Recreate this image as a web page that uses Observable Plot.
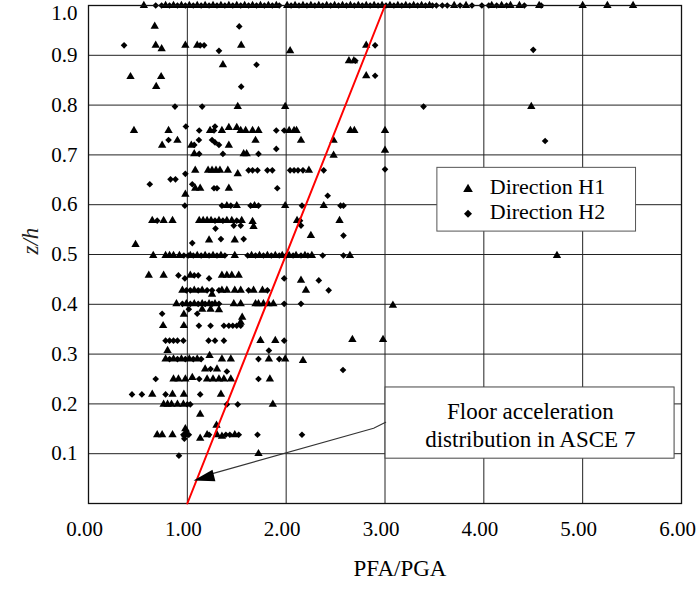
<!DOCTYPE html>
<html>
<head>
<meta charset="utf-8">
<script src="https://cdn.jsdelivr.net/npm/d3@7"></script>
<script src="https://cdn.jsdelivr.net/npm/@observablehq/plot@0.6"></script>
<style>
  html, body { margin: 0; padding: 0; background: white; }
</style>
</head>
<body>
<div id="chart"></div>
<script>
// ---- Data ----
const xTicks = [0, 1, 2, 3, 4, 5, 6];
const yTicks = [0.1, 0.2, 0.3, 0.4, 0.5, 0.6, 0.7, 0.8, 0.9];
const yTopTick = [1.0];

// points at z/h = 1.0 (roof)
const roofH1 = [0.56, 0.78, 0.86, 0.94, 1.02, 1.10, 1.18, 1.26, 1.34, 1.42, 1.50, 1.58, 1.66, 1.74, 1.82, 1.90, 2.01, 2.09, 2.17, 2.25, 2.33, 2.41, 2.49, 2.57, 2.65, 2.73, 2.81, 2.89, 2.97, 3.05, 3.13, 3.21, 3.29, 3.37, 3.45, 3.70, 3.82, 4.08, 4.18, 4.27, 4.36, 4.56, 5.00, 5.25, 5.51];
const roofH2 = [0.68, 0.74, 0.82, 0.90, 0.98, 1.06, 1.14, 1.22, 1.30, 1.38, 1.46, 1.54, 1.62, 1.70, 1.78, 1.86, 1.93, 2.05, 2.13, 2.21, 2.29, 2.37, 2.45, 2.53, 2.61, 2.69, 2.77, 2.85, 2.93, 3.01, 3.09, 3.17, 3.25, 3.33, 3.41, 3.48, 3.52, 3.58, 3.63, 3.76, 3.88, 3.98, 4.05, 4.13, 4.23, 4.41, 4.58];

// Direction H1 : [PFA/PGA, z/h]
const dirH1 = [
  [0.67,0.958],
  [0.68,0.92],[0.98,0.92],[1.10,0.92],[1.545,0.92],[2.81,0.92],[0.74,0.913],[2.04,0.909],
  [1.36,0.881],[2.635,0.889],[2.685,0.889],[2.81,0.859],[0.425,0.857],[0.735,0.857],[0.685,0.837],
  [1.51,0.797],[1.99,0.797],[4.48,0.797],
  [0.46,0.749],[0.81,0.749],[1.23,0.749],[1.35,0.749],[1.42,0.755],[1.50,0.755],[1.54,0.749],[1.59,0.749],[1.66,0.749],[1.72,0.749],[2.03,0.749],[2.08,0.749],[2.105,0.749],[2.65,0.749],[2.69,0.749],[3.00,0.749],
  [2.15,0.729],[2.48,0.729],[0.90,0.729],[1.69,0.729],[0.745,0.719],[1.04,0.719],[1.42,0.719],
  [3.00,0.709],[2.48,0.699],[1.07,0.702],[1.57,0.702],[1.60,0.702],
  [1.08,0.669],[1.21,0.669],[1.25,0.669],[1.29,0.669],[1.33,0.669],[1.41,0.669],[2.23,0.669],[1.51,0.662],
  [1.08,0.633],[1.13,0.633],[1.42,0.633],[0.98,0.621],
  [1.40,0.598],[1.50,0.598],[1.68,0.598],[1.99,0.598],[2.38,0.598],
  [0.645,0.568],[0.76,0.568],[0.85,0.568],[1.12,0.568],[1.16,0.568],[1.20,0.568],[1.24,0.568],[1.32,0.568],[1.40,0.568],[1.45,0.568],[1.55,0.568],[1.66,0.566],[2.11,0.568],[2.54,0.568],[1.67,0.556],
  [2.25,0.538],[1.22,0.529],[1.48,0.529],[0.476,0.52],
  [0.655,0.498],[0.78,0.498],[0.82,0.498],[0.86,0.498],[0.92,0.498],[1.03,0.498],[1.10,0.498],[1.18,0.498],[1.26,0.498],[1.34,0.498],[1.48,0.498],[1.65,0.498],[1.73,0.498],[1.81,0.498],[1.89,0.498],[1.96,0.498],[2.03,0.498],[2.10,0.498],[2.19,0.498],[2.26,0.498],[2.645,0.498],[4.74,0.498],
  [0.61,0.458],[0.76,0.458],[1.03,0.458],[1.35,0.458],[1.40,0.458],[1.45,0.458],[1.52,0.458],[2.15,0.448],
  [2.20,0.428],[0.95,0.428],[1.07,0.428],[1.15,0.428],[1.35,0.428],[1.40,0.428],[1.48,0.428],[1.54,0.428],[1.67,0.428],[1.76,0.428],[1.25,0.42],
  [0.89,0.401],[0.99,0.401],[1.07,0.401],[1.15,0.401],[1.22,0.401],[1.28,0.401],[1.47,0.401],[1.54,0.401],[1.69,0.401],[1.72,0.401],[1.77,0.401],[1.82,0.401],[1.87,0.401],[3.08,0.398],
  [1.15,0.39],[1.235,0.39],[1.32,0.389],[0.965,0.38],[1.555,0.374],
  [0.755,0.357],[0.965,0.357],[1.54,0.364],
  [1.74,0.327],[1.89,0.327],[2.67,0.329],[2.98,0.329],[0.80,0.307],
  [0.78,0.29],[0.86,0.29],[0.94,0.29],[1.02,0.29],[1.10,0.29],[1.35,0.29],[1.44,0.29],[1.825,0.29],[1.99,0.29],[2.17,0.287],[1.225,0.297],
  [1.18,0.27],[1.30,0.27],
  [0.86,0.25],[0.91,0.25],[0.98,0.25],[1.05,0.253],[1.20,0.25],[1.26,0.25],[1.32,0.25],[1.37,0.25],[1.44,0.25],[1.835,0.25],
  [0.645,0.219],[0.85,0.219],[0.965,0.219],[1.34,0.219],
  [0.76,0.199],[0.80,0.199],[0.84,0.199],[0.90,0.199],[0.96,0.199],[1.865,0.199],
  [1.13,0.179],[1.295,0.157],
  [0.695,0.138],[0.745,0.138],[0.85,0.138],[0.98,0.138],[0.98,0.15],[1.13,0.131],[1.20,0.138],[1.30,0.138],[1.35,0.135],[1.48,0.138],
  [1.72,0.10]
];

// Direction H2 : [PFA/PGA, z/h]
const dirH2 = [
  [1.525,0.958],
  [0.36,0.92],[1.13,0.92],[1.17,0.92],[2.90,0.92],[1.32,0.909],[4.50,0.911],
  [1.70,0.881],[2.70,0.889],[2.90,0.859],[1.545,0.837],
  [0.875,0.797],[1.15,0.797],[3.39,0.797],
  [0.985,0.757],[1.28,0.757],[1.12,0.749],[1.27,0.749],[1.90,0.749],[1.98,0.749],[4.62,0.728],
  [0.81,0.73],[1.117,0.73],[1.25,0.73],[1.28,0.725],[1.32,0.72],
  [1.90,0.712],[1.07,0.72],[1.12,0.702],[1.36,0.702],[1.72,0.702],
  [1.62,0.669],[1.66,0.669],[1.71,0.669],[1.81,0.669],[1.86,0.669],[2.04,0.669],[2.08,0.669],[2.12,0.669],[2.17,0.669],[2.38,0.669],[3.00,0.671],
  [0.98,0.662],[0.83,0.651],[0.88,0.651],[0.62,0.641],[1.05,0.641],
  [1.27,0.633],[1.30,0.633],[1.91,0.633],[2.42,0.618],
  [0.975,0.598],[1.35,0.598],[1.44,0.598],[1.64,0.598],[1.72,0.598],[2.16,0.598],[2.55,0.598],[2.58,0.598],
  [0.695,0.568],[1.28,0.568],[1.36,0.568],[1.50,0.568],[2.14,0.568],
  [1.47,0.558],[1.54,0.558],[2.15,0.558],[1.285,0.552],[2.58,0.538],
  [1.34,0.531],[1.57,0.531],[1.05,0.523],
  [0.965,0.498],[1.01,0.498],[1.06,0.498],[1.14,0.498],[1.22,0.498],[1.30,0.498],[1.38,0.498],[1.61,0.498],[1.69,0.498],[1.77,0.498],[1.85,0.498],[1.93,0.498],[2.00,0.498],[2.07,0.498],[2.15,0.498],[2.22,0.498],[2.37,0.498],[2.58,0.498],
  [0.91,0.458],[1.07,0.458],[1.11,0.458],[0.975,0.452],[1.22,0.452],[1.98,0.452],[2.33,0.448],
  [2.43,0.428],[0.99,0.428],[1.03,0.428],[1.11,0.428],[1.20,0.428],[1.25,0.428],[1.32,0.428],[1.62,0.428],[1.81,0.428],
  [0.95,0.401],[1.03,0.401],[1.11,0.401],[1.18,0.401],[1.25,0.401],[1.32,0.401],[1.98,0.401],[2.15,0.401],
  [1.015,0.39],[0.745,0.381],[1.10,0.381],
  [1.117,0.357],[1.235,0.357],[1.37,0.357],[1.42,0.357],[1.46,0.357],[1.50,0.357],[1.54,0.357],
  [0.78,0.327],[0.82,0.327],[0.86,0.327],[0.90,0.327],[0.96,0.327],[1.215,0.327],[1.28,0.327],[1.37,0.327],[1.98,0.327],
  [1.825,0.307],
  [0.82,0.29],[0.90,0.29],[0.98,0.29],[1.06,0.29],[1.14,0.29],[1.72,0.29],[1.93,0.29],
  [2.575,0.268],[1.235,0.27],[1.40,0.265],
  [0.68,0.25],[1.12,0.25],[1.72,0.25],
  [0.44,0.219],[0.54,0.219],[0.78,0.219],[1.13,0.219],
  [1.00,0.199],[1.03,0.199],[1.40,0.199],[1.51,0.199],
  [0.96,0.138],[0.99,0.145],[1.015,0.138],[0.97,0.13],[1.22,0.138],[1.39,0.138],[1.43,0.138],[1.52,0.138],[1.71,0.138],[2.16,0.138],
  [0.915,0.096]
];

// ASCE 7 floor acceleration distribution (red line)
const asceX = [1, 3];
const asceY = [0, 1];

// Legend and annotation texts
const legendLabels = ["Direction H1", "Direction H2"];
const noteText = "Floor acceleration\ndistribution in ASCE 7";

// ---- Build tables ----
const h1 = dirH1.map(([x, y]) => ({x, y})).concat(roofH1.map(x => ({x, y: 1.0})));
const h2 = dirH2.map(([x, y]) => ({x, y})).concat(roofH2.map(x => ({x, y: 1.0})));
const asce = asceX.map((x, i) => ({x, y: asceY[i]}));

// filled arrowhead, tip at origin, pointing up before rotation
const arrowHead = {
  draw(ctx) {
    ctx.moveTo(0, 0);
    ctx.lineTo(-6, 21);
    ctx.lineTo(6, 21);
    ctx.closePath();
  }
};

const font = "'Liberation Serif', 'Times New Roman', serif";

const chart = Plot.plot({
  width: 698,
  height: 589,
  marginLeft: 88,
  marginRight: 17,
  marginTop: 5,
  marginBottom: 86,
  style: {fontFamily: font, fontSize: "21px", background: "white", color: "black"},
  x: {domain: [0, 6]},
  y: {domain: [0, 1]},
  marks: [
    Plot.gridX([1, 2, 3, 4, 5], {stroke: "#222", strokeOpacity: 1, strokeWidth: 1}),
    Plot.gridY([0.1, 0.2, 0.3, 0.4, 0.5, 0.6, 0.7, 0.8, 0.9], {stroke: "#222", strokeOpacity: 1, strokeWidth: 1}),
    Plot.axisX(xTicks, {tickSize: 0, tickPadding: 18, dx: -4, tickFormat: d => d.toFixed(2), fontSize: 21, label: null}),
    Plot.axisY(yTicks, {tickSize: 0, tickPadding: 11, tickFormat: d => d.toFixed(1), fontSize: 21, label: null}),
    Plot.axisY(yTopTick, {tickSize: 0, tickPadding: 11, dy: 8, tickFormat: d => d.toFixed(1), fontSize: 21, label: null}),
    Plot.dot(h1, {x: "x", y: "y", symbol: "triangle", r: 3.1, fill: "black", stroke: "none"}),
    Plot.dot(h2, {x: "x", y: "y", symbol: "diamond2", r: 3.0, fill: "black", stroke: "none"}),
    Plot.frame({stroke: "#111", strokeWidth: 1.3}),
    Plot.line(asce, {x: "x", y: "y", stroke: "#ff0000", strokeWidth: 2, clip: false}),
    // annotation box
    Plot.rect([0], {x1: 3.006, x2: 5.93, y1: 0.090, y2: 0.233, fill: "white", stroke: "#444", strokeWidth: 1}),
    Plot.text([noteText], {x: 4.47, y: 0.1596, text: d => d, fontSize: 23, lineHeight: 1.22, fill: "black"}),
    Plot.line([{x: 1.2, y: 0.057}, {x: 2.885, y: 0.151}, {x: 3.006, y: 0.163}], {x: "x", y: "y", stroke: "#333", strokeWidth: 1.1}),
    Plot.dot([{x: 1.063, y: 0.046}], {x: "x", y: "y", symbol: arrowHead, rotate: -104, fill: "black", stroke: "none"}),
    // legend
    Plot.rect([0], {x1: 3.53, x2: 5.54, y1: 0.546, y2: 0.674, fill: "white", stroke: "#555", strokeWidth: 1}),
    Plot.dot([{x: 3.84, y: 0.631}], {x: "x", y: "y", symbol: "triangle", r: 3.6, fill: "black"}),
    Plot.dot([{x: 3.84, y: 0.582}], {x: "x", y: "y", symbol: "diamond2", r: 3.6, fill: "black"}),
    Plot.text([{x: 4.06, y: 0.6355, t: legendLabels[0]}, {x: 4.06, y: 0.585, t: legendLabels[1]}], {x: "x", y: "y", text: "t", textAnchor: "start", fontSize: 22, fill: "black"}),
    // axis titles
    Plot.text(["PFA/PGA"], {frameAnchor: "bottom", dx: 15, dy: 72, text: d => d, fontSize: 23, fill: "black"}),
    Plot.text(["z/h"], {frameAnchor: "left", dx: -58, rotate: -90, text: d => d, fontSize: 23, fontStyle: "italic", fill: "#222"})
  ]
});

document.getElementById("chart").appendChild(chart);
</script>
</body>
</html>
